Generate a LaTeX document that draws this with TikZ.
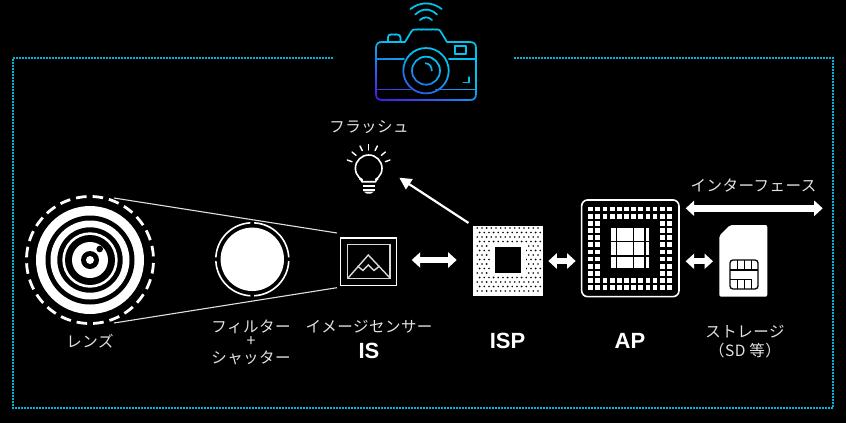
\documentclass[tikz,border=0pt]{standalone}
\usepackage{fontspec}
\setmainfont{Noto Sans CJK JP}
\newfontfamily\lblfont[LetterSpace=3]{Noto Sans CJK JP}
\newfontfamily\bigfont{Liberation Sans}
\usetikzlibrary{arrows.meta,shapes.geometric}
\definecolor{txt}{HTML}{E2E2E2}
\definecolor{dotc}{HTML}{00B4D8}
\definecolor{camA}{HTML}{00C4F2}
\definecolor{camB}{HTML}{4A1EEA}
\tikzset{
  lbl/.style={text=txt,font=\lblfont\fontsize{15.5}{18}\selectfont,inner sep=0pt},
  plusl/.style={text=txt,font=\fontsize{16}{16}\selectfont,inner sep=0pt},
  big/.style={text=white,font=\bigfont\fontsize{22}{24}\selectfont\bfseries,inner sep=0pt},
  blk/.style={inner sep=0pt,outer sep=0pt},
  dbl/.style={white,line width=6pt,{Triangle[length=8.5pt,width=15pt]}-{Triangle[length=8.5pt,width=15pt]}},
  ray/.style={line width=1.4pt,white,line cap=round},
  cam/.style={line width=1.7pt,line join=round,line cap=round},
  beam/.style={draw=white!88!black,line width=1.1pt},
}
\newcommand\campaths{%
  \draw[cam] (376,58) -- (376,94)
     .. controls (376,98) and (378,100) .. (382,100) -- (470,100)
     .. controls (474,100) and (476,98) .. (476,94) -- (476,48)
     .. controls (476,44) and (474,42) .. (470,42) -- (447,42) -- (441,32)
     .. controls (440,30) and (439,29.5) .. (437,29.5) -- (415,29.5)
     .. controls (413,29.5) and (412,30) .. (411,32) -- (405,42) -- (382,42)
     .. controls (378,42) and (376,44) .. (376,48) -- (376,58);
  \draw[cam] (388,41.5) -- (388,37.5) .. controls (388,35.5) and (389,34.5) .. (391,34.5)
     -- (397,34.5) .. controls (399,34.5) and (400.5,35.5) .. (400.5,37.5) -- (400.5,41.5);
  \draw[cam] (455,46) rectangle (466,54);
  \draw[cam] (376,58.7) -- (404,58.7) (449,58.7) -- (476,58.7);
  \draw[cam] (376,89.5) -- (410,89.5) (436,89.5) -- (476,89.5);
  \draw[cam] (426,70.7) circle[radius=22.7];
  \draw[cam] (426,70.7) circle[radius=14];
  \draw[cam] (425.5,63.3) .. controls (429.5,63.5) and (431.7,66.5) .. (431.8,70.7);
  \draw[cam] (463.5,82.5) -- (469.3,82.5) -- (469.3,77.3);
  \draw[cam] (410.5,9) .. controls (420,1.5) and (432,1.5) .. (441.7,9);
  \draw[cam] (415.3,14.5) .. controls (422,8) and (430,8) .. (437,14.5);
  \draw[cam] (420,20) .. controls (423.5,16.5) and (428.5,16.5) .. (432,20);
}
\begin{document}
\begin{tikzpicture}[x=1pt,y=-1pt]
\useasboundingbox (0,0) rectangle (846,423);
\fill[black] (0,0) rectangle (846,423);

% dotted frame
\draw[dotc,line width=2pt,dash pattern=on 2pt off 1pt]
  (333,58) -- (13,58) -- (13,408) -- (833,408) -- (833,58) -- (514,58);

% camera with gradient strokes
\foreach \s in {-50,-48,...,70}{
  \pgfmathsetmacro\fr{max(0,min(100,(\s-5)*100/55))}
  \colorlet{cc}{camB!\fr!camA}
  \begin{scope}
    \clip[shift={(426,52)},rotate=-25] (-150,\s) rectangle (150,\s+2.3);
    \begin{scope}[cc]
      \campaths
    \end{scope}
  \end{scope}
}

% beam coordinates
\coordinate (lt) at (114,198);
\coordinate (lb) at (114,323);
\coordinate (st) at (337,233);
\coordinate (sb) at (337,287.7);
\draw[beam] (lt) -- (st);
\draw[beam] (lb) -- (sb);

% lens
\node[blk,circle,fill=white,minimum size=108pt] (lens) at (90,260) {};
\draw[white,line width=2.8pt,dash pattern=on 10.6pt off 6pt,dash phase=13.6pt] (lens.center) circle[radius=63.5];
\fill[black] (lens.center) circle[radius=44.5];
\fill[white] (lens.center) circle[radius=39.5];
\fill[black] (lens.center) circle[radius=32.7];
\fill[white] (lens.center) circle[radius=27.7];
\fill[black] (lens.center) circle[radius=25];
\fill[white] (lens.center) circle[radius=18];
\fill[black] (lens.center) circle[radius=9];
\fill[white] (lens.center) circle[radius=4];
\fill[black] (99.7,249) circle[radius=3.3];
\node[lbl] (lensl) at (90,341) {レンズ};

% filter
\node[blk,circle,fill=white,minimum size=63.4pt] (filter) at (252.3,259.3) {};
\foreach \a in {0,90,180,270}{
  \draw[white,line width=1.6pt] (filter.center) ++(\a+3:36.5pt) arc[start angle=\a+3,end angle=\a+87,radius=36.5pt];
}
\node[lbl] (fl1) at (251,326.5) {フィルター};
\node[plusl] (fl2) at (251,342) {+};
\node[lbl] (fl3) at (251,357.5) {シャッター};

% image sensor
\node[blk,draw=white,line width=1.5pt,minimum width=56pt,minimum height=47.3pt] (sensor) at (368.7,261.6) {};
\draw[white!85!black,line width=1.4pt] (347.7,244.7) rectangle (390,278.3);
\draw[white!85!black,line width=1.4pt,line join=miter] (348.3,277.7) -- (368.3,255) -- (389.7,277.7);
\draw[white!85!black,line width=1.4pt] (357.5,266) -- (363,270.5) -- (368.3,265) -- (374,270.5) -- (379.5,266);
\node[lbl] (sl) at (369,327) {イメージセンサー};
\node[big] (is) at (369,351) {IS};

% ISP
\node[blk,fill=white,minimum width=70pt,minimum height=70pt] (isp) at (507.7,260.7) {};
\foreach \r in {0,...,14}{
  \pgfmathsetmacro\off{mod(\r,2)*2.3}
  \foreach \c in {0,...,13}{
    \fill[black] ({477.3+\off+\c*4.67},{228+\r*4.5}) circle[radius=0.9];
  }
}
\fill[white] (490,244.5) rectangle (525.5,276);
\fill[black] (494.7,247.3) rectangle (521,273.3);
\node[big] (ispl) at (507.5,341) {ISP};

% AP
\node[blk,draw=white,line width=1.6pt,rounded corners=6pt,minimum width=97.3pt,minimum height=96.7pt] (ap) at (630.3,248.3) {};
\foreach \i in {0,...,11}{
  \foreach \j in {0,...,11}{
    \pgfmathparse{(\i<2 || \i>9 || \j<2 || \j>9) ? 1 : 0}
    \ifnum\pgfmathresult=1
      \fill[white] ({590.7+7.15*\i-2.4},{209+7.15*\j-2.4}) rectangle ++(4.8,4.8);
    \fi
  }
}
\fill[white] (611,228.3) rectangle (649,268.3);
\draw[black,line width=1.3pt] (616.3,228.3) -- (616.3,268.3) (633.3,228.3) -- (633.3,268.3) (645,228.3) -- (645,268.3)
   (611,241.5) -- (649,241.5) (611,256) -- (649,256);
\node[big] (apl) at (630,341) {AP};

% SIM
\node[blk,minimum width=48pt,minimum height=71.7pt] (sim) at (743.3,260.8) {};
\fill[white,rounded corners=2pt] (719.3,296.7) -- (719.3,235.7) -- (730,225) -- (767.3,225) -- (767.3,296.7) -- cycle;
\draw[black,line width=1.3pt,rounded corners=3pt] (730,260) rectangle (758,289);
\draw[black,line width=1.3pt] (730,270) -- (758,270) (730,279.3) -- (751.7,279.3) -- (751.7,289)
   (737.3,260) -- (737.3,270) (744.3,260) -- (744.3,270) (751.7,260) -- (751.7,270)
   (737.3,279.3) -- (737.3,289) (744.3,279.3) -- (744.3,289);
\node[lbl] (siml1) at (745,332) {ストレージ};
\node[lbl] (siml2) at (745,351) {（SD 等）};

% bulb
\node[blk,circle,draw=white,line width=1.6pt,minimum size=26.6pt] (bulb) at (368.7,168.3) {};
\fill[black] (362.5,178.5) rectangle (375,184);
\draw[white,line width=1.6pt] (359.5,178.6) .. controls (361.5,180) and (361.5,181) .. (362,181.7) -- (375.5,181.7) .. controls (376,181) and (376,180) .. (378,178.6);
\draw[white,line width=1.6pt] (362.5,185.7) -- (375,185.7) (362.5,190) -- (375,190);
\fill[white] (363.5,191.5) -- (374,191.5) -- (371,193.5) -- (366.5,193.5) -- cycle;
\draw[ray] (368.7,144.5) -- (368.7,150);
\draw[ray] (360,146) -- (362.3,150.6);
\draw[ray] (377.4,146) -- (375.1,150.6);
\draw[ray] (352,152) -- (356,155.3);
\draw[ray] (385.4,152) -- (381.4,155.3);
\draw[ray] (347.3,160) -- (352,161.7);
\draw[ray] (390,160) -- (385.4,161.7);
\node[lbl] (fll) at (369,127) {フラッシュ};

% arrows
\coordinate (ftip) at (399.3,177.7);
\draw[white,line width=2.2pt,-{Triangle[length=12pt,width=12pt]},shorten <=5pt] (isp.north west) -- (ftip);
\draw[dbl,shorten <=15pt,shorten >=16pt] (sensor.east |- 0,260) -- (isp.west |- 0,260);
\draw[dbl,shorten <=5.6pt,shorten >=6pt] (isp.east |- 0,261) -- (ap.west |- 0,261);
\draw[dbl,shorten <=6.7pt,shorten >=6.3pt] (ap.east |- 0,261.3) -- (sim.west |- 0,261.3);
\coordinate (ifl) at (685.7,208.3);
\coordinate (ifr) at (822.7,208.3);
\draw[dbl,line width=7pt] (ifl) -- (ifr);
\node[lbl] (ifll) at (753.5,186) {インターフェース};
\end{tikzpicture}
\end{document}
